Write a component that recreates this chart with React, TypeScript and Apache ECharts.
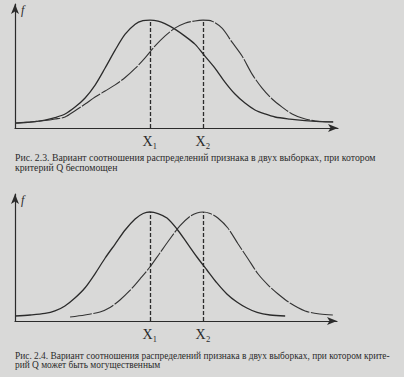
import React, { useEffect, useRef } from "react";
import * as echarts from "echarts";

// Figure 2.3 (top): x positions (0..100 along the axis) and heights (peak = 1)
const topX1 = [0, 3.1, 6.2, 9.3, 12.4, 15.5, 18.6, 21.7, 24.8, 27.9, 31.0, 34.1, 37.2, 39.6, 41.8, 44.3, 46.4, 49.5, 52.6, 55.7, 58.8, 61.9, 65.0, 68.1, 71.2, 74.3, 77.4, 80.5, 85.1, 89.8, 94.4, 98.5];
const topY1 = [0.046, 0.051, 0.06, 0.074, 0.097, 0.13, 0.194, 0.278, 0.398, 0.556, 0.722, 0.87, 0.963, 0.995, 1.0, 0.991, 0.968, 0.917, 0.852, 0.778, 0.667, 0.556, 0.426, 0.315, 0.231, 0.167, 0.13, 0.102, 0.083, 0.069, 0.06, 0.056];
const topX2 = [0, 4.6, 9.3, 12.4, 15.5, 18.6, 21.7, 24.8, 27.9, 31.0, 34.1, 37.2, 40.2, 43.3, 46.4, 49.5, 52.6, 55.7, 58.2, 61.0, 64.1, 67.2, 70.3, 73.4, 76.5, 79.6, 82.7, 85.8, 88.9, 92.9, 98.5];
const topY2 = [0.046, 0.056, 0.069, 0.083, 0.102, 0.16, 0.222, 0.287, 0.343, 0.4, 0.468, 0.552, 0.648, 0.759, 0.852, 0.926, 0.972, 0.993, 1.0, 0.991, 0.926, 0.796, 0.667, 0.5, 0.37, 0.269, 0.194, 0.13, 0.093, 0.065, 0.056];
const topPeaks = [41.8, 58.2];

// Figure 2.4 (bottom)
const botX1 = [0, 4.7, 9.3, 12.4, 15.5, 18.6, 21.7, 24.8, 28.0, 31.1, 34.2, 37.3, 39.8, 41.9, 44.4, 47.2, 50.3, 53.4, 56.5, 59.6, 62.7, 65.8, 68.9, 72.0, 75.2, 79.2, 83.9];
const botY1 = [0.046, 0.055, 0.069, 0.092, 0.138, 0.211, 0.303, 0.431, 0.578, 0.706, 0.835, 0.936, 0.986, 1.0, 0.986, 0.945, 0.844, 0.716, 0.587, 0.468, 0.349, 0.248, 0.174, 0.119, 0.078, 0.055, 0.046];
const botX2 = [17.1, 21.7, 26.4, 29.5, 32.6, 35.7, 38.8, 41.9, 45.0, 48.1, 51.2, 54.3, 56.5, 58.4, 60.6, 63.0, 66.1, 69.3, 72.4, 75.5, 78.6, 81.7, 85.4, 90.1, 94.7, 98.8];
const botY2 = [0.037, 0.055, 0.083, 0.124, 0.193, 0.28, 0.385, 0.495, 0.624, 0.752, 0.872, 0.959, 0.991, 1.0, 0.986, 0.945, 0.853, 0.706, 0.569, 0.431, 0.33, 0.248, 0.165, 0.092, 0.064, 0.055];
const botPeaks = [41.9, 58.4];

const peakLabels = ["X\u2081", "X\u2082"];
const yAxisName = "f";

const caption1 = "Рис. 2.3. Вариант соотношения распределений признака в двух выборках, при котором\nкритерий Q беспомощен";
const caption2 = "Рис. 2.4. Вариант соотношения распределений признака в двух выборках, при котором крите-\nрий Q может быть могущественным";

const INK = "#2b2b2b";
const SERIF = "Liberation Serif, DejaVu Serif, serif";

function zip(xs: number[], ys: number[]) {
  return xs.map((x, i) => [x, ys[i]]);
}

function peakLine(x: number) {
  return [{ coord: [x, 0] }, { coord: [x, 1] }];
}

export default function App() {
  const ref = useRef<HTMLDivElement>(null);
  useEffect(() => {
    if (!ref.current) return;
    const chart = echarts.init(ref.current, null, { renderer: "svg" });
    const xAxisBase = (gridIndex: number, peaks: number[]) => ({
      type: "value",
      gridIndex,
      min: 0,
      max: 100,
      splitLine: { show: false },
      axisTick: { show: false },
      axisLine: {
        show: true,
        lineStyle: { color: INK, width: 1.2 },
        symbol: ["none", "arrow"],
        symbolSize: [6, 10],
      },
      axisLabel: {
        show: true,
        customValues: peaks,
        formatter: (v: number) => peakLabels[peaks.indexOf(v)] ?? "",
        color: INK,
        fontSize: 14,
        fontFamily: SERIF,
        margin: 6,
      },
    });
    const yAxisBase = (gridIndex: number, max: number) => ({
      type: "value",
      gridIndex,
      min: 0,
      max,
      name: yAxisName,
      nameLocation: "end",
      nameGap: -12,
      nameTextStyle: {
        color: INK,
        fontSize: 12,
        fontStyle: "italic",
        fontFamily: SERIF,
        align: "left",
        padding: [0, 0, 0, 6],
      },
      splitLine: { show: false },
      axisTick: { show: false },
      axisLabel: { show: false },
      axisLine: {
        show: true,
        lineStyle: { color: INK, width: 1.2 },
        symbol: ["none", "arrow"],
        symbolSize: [6, 10],
      },
    });
    const solid = { color: INK, width: 1.3 };
    const dashed = { color: "#333333", width: 1.1, type: [22, 1.5] };
    const mlStyle = { color: INK, width: 1.3, type: [4, 2] };
    const series = (
      name: string,
      idx: number,
      data: number[][],
      ls: any,
      peak: number
    ) => ({
      name,
      type: "line",
      xAxisIndex: idx,
      yAxisIndex: idx,
      data,
      smooth: 0.3,
      showSymbol: false,
      lineStyle: ls,
      silent: true,
      markLine: {
        silent: true,
        symbol: "none",
        label: { show: false },
        lineStyle: mlStyle,
        data: [peakLine(peak)],
      },
    });
    const capStyle = (size: number) => ({
      fontSize: size,
      fontWeight: "normal",
      color: INK,
      fontFamily: SERIF,
      lineHeight: 9.5,
    });
    chart.setOption({
      animation: false,
      backgroundColor: "#d9d9d8",
      title: [
        { text: caption1, left: 10, top: 148, padding: 5, textStyle: capStyle(9.75) },
        { text: caption2, left: 10, top: 346, padding: 5, textStyle: capStyle(9.4) },
      ],
      grid: [
        { left: 15, right: 66, top: 4, bottom: 249 },
        { left: 15, right: 67, top: 194, bottom: 56 },
      ],
      xAxis: [xAxisBase(0, topPeaks), xAxisBase(1, botPeaks)],
      yAxis: [yAxisBase(0, 1.15), yAxisBase(1, 1.165)],
      series: [
        series("A1", 0, zip(topX1, topY1), solid, topPeaks[0]),
        series("B1", 0, zip(topX2, topY2), dashed, topPeaks[1]),
        series("A2", 1, zip(botX1, botY1), solid, botPeaks[0]),
        series("B2", 1, zip(botX2, botY2), dashed, botPeaks[1]),
      ],
    });
    return () => chart.dispose();
  }, []);
  return (
    <div
      ref={ref}
      style={{ position: "absolute", left: 0, top: 0, width: 404, height: 377 }}
    />
  );
}
